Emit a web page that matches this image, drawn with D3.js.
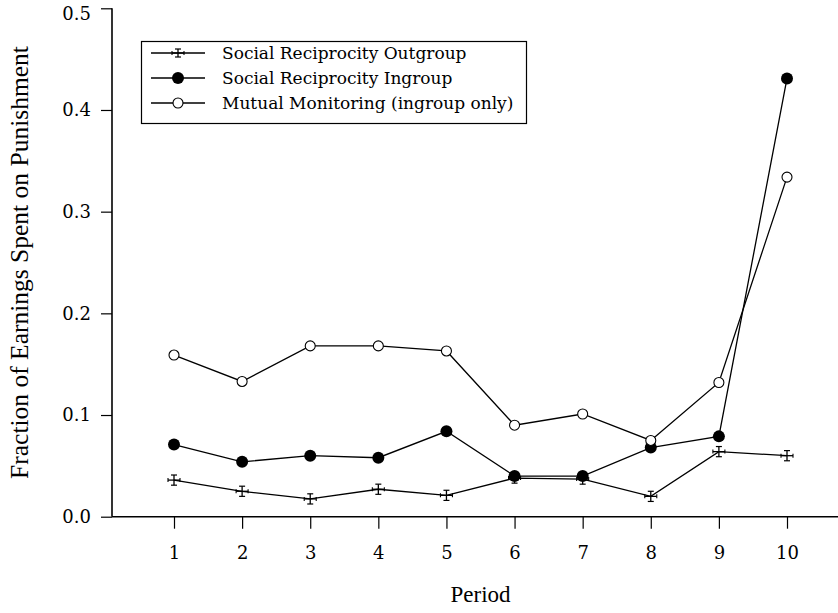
<!DOCTYPE html>
<html>
<head>
<meta charset="utf-8">
<script src="https://cdn.jsdelivr.net/npm/d3@7"></script>
<style>
  html, body { margin: 0; padding: 0; background: #fff; }
  svg { display: block; }
</style>
</head>
<body>
<svg id="chart" width="838" height="613"></svg>
<script>
// Periods and the three punishment series
const periods = [1, 2, 3, 4, 5, 6, 7, 8, 9, 10];
const outgroup = [0.036, 0.025, 0.0175, 0.027, 0.021, 0.038, 0.037, 0.020, 0.064, 0.060];
const outgroupErr = [0.005, 0.005, 0.005, 0.005, 0.005, 0.005, 0.005, 0.005, 0.005, 0.005];
const ingroup = [0.071, 0.054, 0.060, 0.058, 0.084, 0.040, 0.040, 0.068, 0.079, 0.431];
const monitoring = [0.159, 0.133, 0.168, 0.168, 0.163, 0.090, 0.101, 0.075, 0.132, 0.334];
const yTicks = [0.0, 0.1, 0.2, 0.3, 0.4, 0.5];
const legendLabels = [
  "Social Reciprocity Outgroup",
  "Social Reciprocity Ingroup",
  "Mutual Monitoring (ingroup only)"
];

const svg = d3.select("#chart");
const tickFont = "'DejaVu Serif', serif";
const titleFont = "'Liberation Serif', 'Times New Roman', serif";

const plotLeft = 112, plotRight = 838, plotTop = 8.3, plotBottom = 516.7;

const x = d3.scaleLinear().domain([1, 10]).range([174, 787]);
const y = d3.scaleLinear().domain([0, 0.5]).range([plotBottom, plotTop]);

// Y axis
const gy = svg.append("g").attr("transform", `translate(${plotLeft},0)`)
  .call(d3.axisLeft(y).tickValues(yTicks).tickFormat(d3.format(".1f")).tickSize(11).tickPadding(10));
gy.select(".domain").attr("d", `M0,${plotTop}V${plotBottom}`).attr("stroke", "#000").attr("stroke-width", 1.6);
gy.selectAll(".tick line").attr("stroke", "#000").attr("stroke-width", 1.2);
gy.selectAll(".tick text").attr("font-family", tickFont).attr("font-size", 18).attr("fill", "#000");
// keep the top label inside the page
gy.selectAll(".tick text").filter(d => d === 0.5).attr("y", 5);

// X axis
const gx = svg.append("g").attr("transform", `translate(0,${plotBottom})`)
  .call(d3.axisBottom(x).tickValues(periods).tickFormat(d3.format("d")).tickSize(12).tickPadding(18));
gx.select(".domain").attr("d", `M${plotLeft},0H${plotRight}`).attr("stroke", "#000").attr("stroke-width", 1.6);
gx.selectAll(".tick line").attr("stroke", "#000").attr("stroke-width", 1.2);
gx.selectAll(".tick text").attr("font-family", tickFont).attr("font-size", 18).attr("fill", "#000");

// Axis titles
svg.append("text")
  .attr("x", (x(1) + x(10)) / 2).attr("y", 602)
  .attr("text-anchor", "middle")
  .attr("font-family", titleFont).attr("font-size", 23)
  .text("Period");

svg.append("text")
  .attr("transform", `translate(28,${(plotTop + plotBottom) / 2}) rotate(-90)`)
  .attr("text-anchor", "middle")
  .attr("font-family", titleFont).attr("font-size", 25.5)
  .text("Fraction of Earnings Spent on Punishment");

const line = d3.line().x((d, i) => x(periods[i])).y(d => y(d));

function drawLine(values) {
  svg.append("path").datum(values)
    .attr("d", line).attr("fill", "none")
    .attr("stroke", "#000").attr("stroke-width", 1.3);
}

drawLine(outgroup);
drawLine(ingroup);
drawLine(monitoring);

// Error-bar cross marker used by the outgroup series
function crossMarker(g, cx, cy, errPx) {
  const s = "#000";
  g.append("line").attr("x1", cx).attr("x2", cx).attr("y1", cy - errPx).attr("y2", cy + errPx)
    .attr("stroke", s).attr("stroke-width", 1.3);
  g.append("line").attr("x1", cx - 3).attr("x2", cx + 3).attr("y1", cy - errPx).attr("y2", cy - errPx)
    .attr("stroke", s).attr("stroke-width", 1.2);
  g.append("line").attr("x1", cx - 3).attr("x2", cx + 3).attr("y1", cy + errPx).attr("y2", cy + errPx)
    .attr("stroke", s).attr("stroke-width", 1.2);
  g.append("line").attr("x1", cx - 6).attr("x2", cx + 6).attr("y1", cy).attr("y2", cy)
    .attr("stroke", s).attr("stroke-width", 1.3);
  g.append("line").attr("x1", cx - 6).attr("x2", cx - 6).attr("y1", cy - 2).attr("y2", cy + 2)
    .attr("stroke", s).attr("stroke-width", 1.1);
  g.append("line").attr("x1", cx + 6).attr("x2", cx + 6).attr("y1", cy - 2).attr("y2", cy + 2)
    .attr("stroke", s).attr("stroke-width", 1.1);
}

const gOut = svg.append("g");
outgroup.forEach((v, i) => {
  const errPx = y(0) - y(outgroupErr[i]);
  crossMarker(gOut, x(periods[i]), y(v), errPx);
});

svg.append("g").selectAll("circle").data(ingroup).join("circle")
  .attr("cx", (d, i) => x(periods[i])).attr("cy", d => y(d))
  .attr("r", 6).attr("fill", "#000");

svg.append("g").selectAll("circle").data(monitoring).join("circle")
  .attr("cx", (d, i) => x(periods[i])).attr("cy", d => y(d))
  .attr("r", 5).attr("fill", "#fff").attr("stroke", "#000").attr("stroke-width", 1.1);

// Legend
const lg = svg.append("g");
lg.append("rect").attr("x", 141.5).attr("y", 41.5).attr("width", 385).attr("height", 82)
  .attr("fill", "#fff").attr("stroke", "#000").attr("stroke-width", 1.2);
const rowY = [53, 78, 103];
rowY.forEach((ry, i) => {
  lg.append("line").attr("x1", 151).attr("x2", 205).attr("y1", ry).attr("y2", ry)
    .attr("stroke", "#000").attr("stroke-width", 1.3);
  lg.append("text").attr("x", 222).attr("y", ry + 6)
    .attr("font-family", tickFont).attr("font-size", 17).attr("fill", "#000")
    .text(legendLabels[i]);
});
crossMarker(lg, 178, rowY[0], 4);
lg.append("circle").attr("cx", 178).attr("cy", rowY[1]).attr("r", 6).attr("fill", "#000");
lg.append("circle").attr("cx", 178).attr("cy", rowY[2]).attr("r", 5)
  .attr("fill", "#fff").attr("stroke", "#000").attr("stroke-width", 1.1);
</script>
</body>
</html>
